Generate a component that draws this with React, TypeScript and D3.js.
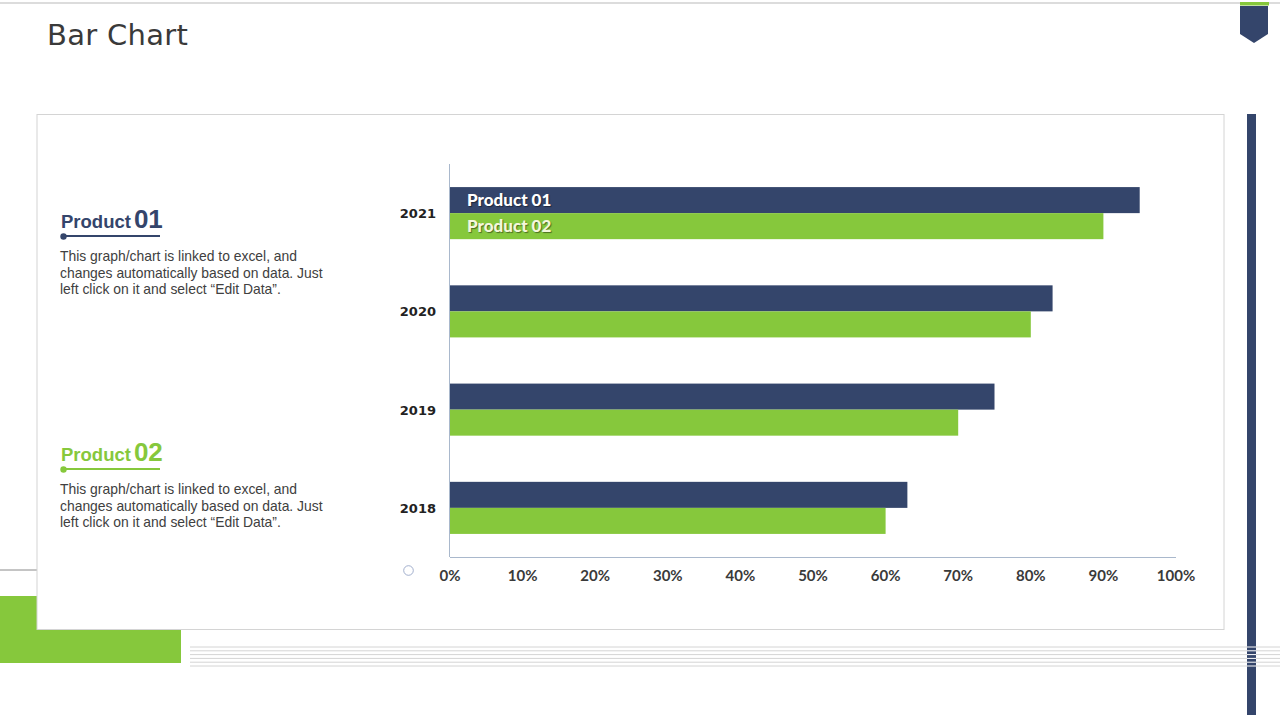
import React from 'react';
import * as d3 from 'd3';

const years = ['2021', '2020', '2019', '2018'];
const product01 = [95, 83, 75, 63];
const product02 = [90, 80, 70, 60];
const seriesNames = ['Product 01', 'Product 02'];
const xTicks = [0, 10, 20, 30, 40, 50, 60, 70, 80, 90, 100];
const blurb = [
  'This graph/chart is linked to excel, and',
  'changes automatically based on data. Just',
  'left click on it and select \u201cEdit Data\u201d.',
];

const NAVY = '#34456b';
const GREEN = '#86c83c';
const GRAY_TEXT = '#404040';

const App: React.FC = () => {
  const W = 1280;
  const H = 720;

  const x = d3.scaleLinear().domain([0, 100]).range([450, 1176]);
  const y = d3.scaleBand<string>().domain(years).range([164, 557]).paddingInner(0.47).paddingOuter(0.235);
  const sub = d3.scaleBand<string>().domain(seriesNames).range([0, y.bandwidth()]);
  const colors = [NAVY, GREEN];
  const values = [product01, product02];

  const stripes = d3.range(6).map(i => 647 + i * 3.8);

  const sideBlock = (title: string, num: string, color: string, top: number) => (
    <g>
      <text x={61} y={top} fill={color} fontFamily="Liberation Sans, Arial, sans-serif" fontWeight="bold">
        <tspan fontSize={18.5}>{title}</tspan>
        <tspan fontSize={26} dx={3}>{num}</tspan>
      </text>
      <line x1={63} x2={160} y1={top + 8} y2={top + 8} stroke={color} strokeWidth={2} />
      <circle cx={63.5} cy={top + 8.5} r={3.2} fill={color} />
      {blurb.map((line, i) => (
        <text key={i} x={60} y={top + 33 + i * 16.7} fontSize={13.9} fill={GRAY_TEXT}
          fontFamily="Liberation Sans, Arial, sans-serif">{line}</text>
      ))}
    </g>
  );

  return (
    <svg width={W} height={H} style={{ position: 'absolute', left: 0, top: 0, background: '#fff' }}>
      {/* top border and ribbon */}
      <line x1={0} x2={W} y1={3} y2={3} stroke="#d0d0d0" strokeWidth={1.5} />
      <rect x={1240} y={2} width={29} height={3.5} fill={GREEN} />
      <path d="M1240,6 H1268 V34 L1254,43 L1240,34 Z" fill={NAVY} />

      <text x={47} y={45} fontSize={29} fill="#3a3a3a" fontFamily="DejaVu Sans, sans-serif"
        letterSpacing={0.3}>Bar Chart</text>

      {/* decorative shapes */}
      <line x1={0} x2={37} y1={570} y2={570} stroke="#8a8a8a" strokeWidth={1} />
      <rect x={0} y={596} width={181} height={67} fill={GREEN} />
      {stripes.map((s, i) => (
        <line key={i} x1={190} x2={W} y1={s} y2={s} stroke="#d4d4d4" strokeWidth={1} />
      ))}
      <rect x={1247} y={114} width={9} height={601} fill={NAVY} />
      {stripes.map((s, i) => (
        <line key={'w' + i} x1={1247} x2={1256} y1={s} y2={s} stroke="#ffffff" strokeWidth={1} />
      ))}

      {/* card */}
      <rect x={37} y={114.5} width={1187} height={515} fill="#fff" stroke="#d4d4d4" strokeWidth={1} />

      {sideBlock('Product', '01', NAVY, 228)}
      {sideBlock('Product', '02', GREEN, 461)}

      {/* bars */}
      {years.map((yr, i) => (
        <g key={yr}>
          {seriesNames.map((s, j) => (
            <rect key={s} x={x(0)} y={(y(yr) as number) + (sub(s) as number)}
              width={x(values[j][i]) - x(0)} height={sub.bandwidth()} fill={colors[j]} />
          ))}
          <text x={436} y={(y(yr) as number) + y.bandwidth() / 2 + 5} textAnchor="end" fontSize={13}
            fontWeight="bold" fill="#222" fontFamily="DejaVu Sans, sans-serif">{yr}</text>
        </g>
      ))}

      {/* series labels on top bars */}
      {seriesNames.map((s, j) => (
        <text key={s} x={467} y={(y(years[0]) as number) + (sub(s) as number) + sub.bandwidth() / 2 + 6}
          fontSize={17} fontWeight={900} fontFamily="Lato, Open Sans, sans-serif"
          fill={j === 0 ? '#ffffff' : '#f4f7dc'}
          style={{ textShadow: '1px 1px 1px rgba(0,0,0,0.45)' }}>{s}</text>
      ))}

      {/* axes */}
      <line x1={x(0) - 0.5} x2={x(0) - 0.5} y1={164} y2={557} stroke="#a9b8cc" strokeWidth={1} />
      <line x1={x(0)} x2={x(100)} y1={557.5} y2={557.5} stroke="#a9b8cc" strokeWidth={1} />
      {xTicks.map(t => (
        <text key={t} x={x(t)} y={581} textAnchor="middle" fontSize={15} fontWeight="bold"
          fill="#3a3a3a" fontFamily="Lato, sans-serif">{t}%</text>
      ))}
      <circle cx={408.5} cy={570.5} r={4.8} fill="none" stroke="#8a9bc0" strokeWidth={0.8} />
    </svg>
  );
};

export default App;
